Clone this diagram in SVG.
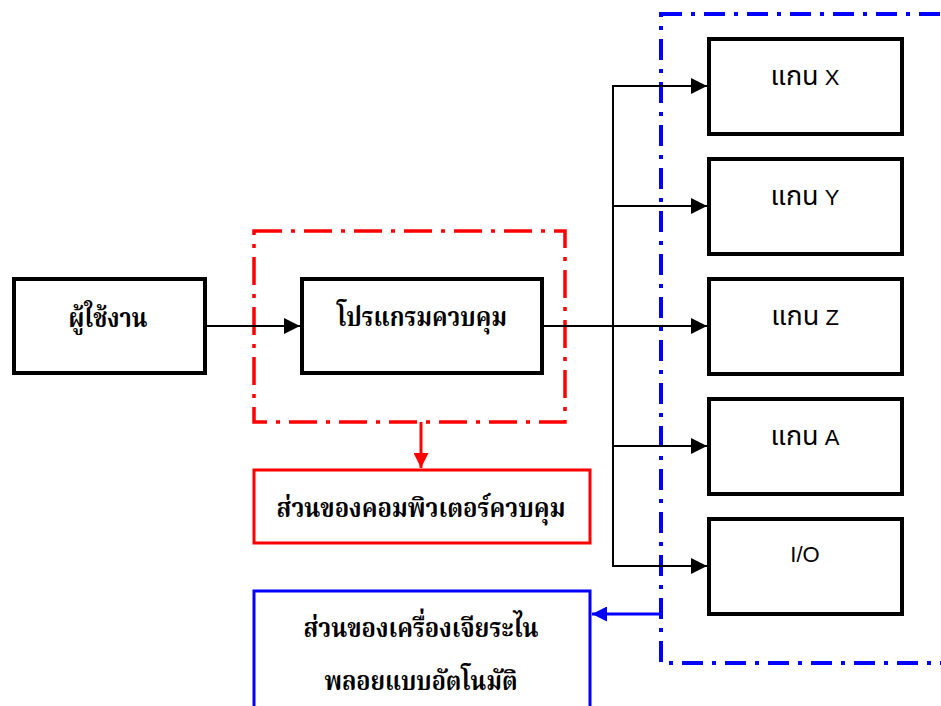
<svg xmlns="http://www.w3.org/2000/svg" width="941" height="706" viewBox="0 0 941 706">
  <style>
    .box { fill: #fff; stroke: #000; stroke-width: 4; }
    .th { font-family: "Liberation Serif", "Noto Serif Thai", "Noto Sans Thai", serif; font-weight: bold; font-size: 27px; fill: #000; text-anchor: middle; }
    .ax { font-family: "Liberation Sans", "Noto Sans Thai", sans-serif; font-size: 22px; fill: #000; text-anchor: middle; }
    .ax .thai { font-size: 27px; }
    .wire { fill: none; stroke: #000; stroke-width: 2; }
  </style>
  <defs>
    <marker id="arrBlack" viewBox="0 0 10 10" refX="10" refY="5" markerWidth="8" markerHeight="8" markerUnits="strokeWidth" orient="auto">
      <path d="M0,0 L10,5 L0,10 Z" fill="#000"/>
    </marker>
    <marker id="arrRed" viewBox="0 0 10 10" refX="10" refY="5" markerWidth="5" markerHeight="5" markerUnits="strokeWidth" orient="auto">
      <path d="M0,0 L10,5 L0,10 Z" fill="#f00"/>
    </marker>
    <marker id="arrBlue" viewBox="0 0 10 10" refX="10" refY="5" markerWidth="5" markerHeight="5" markerUnits="strokeWidth" orient="auto">
      <path d="M0,0 L10,5 L0,10 Z" fill="#00f"/>
    </marker>
  </defs>

  <!-- dash-dot group frames -->
  <g id="frame-computer">
    <rect x="254" y="231" width="311" height="191" fill="none" stroke="#f00" stroke-width="3.5" stroke-dasharray="28 9 4 9"/>
  </g>
  <g id="frame-machine">
    <rect x="661" y="14" width="320" height="649" fill="none" stroke="#00f" stroke-width="4" stroke-dasharray="21 9 4 9"/>
  </g>

  <!-- connectors -->
  <g id="connectors">
    <line class="wire" x1="205" y1="326" x2="300" y2="326" marker-end="url(#arrBlack)"/>
    <line class="wire" x1="543" y1="326" x2="707" y2="326" marker-end="url(#arrBlack)"/>
    <line class="wire" x1="613" y1="85" x2="613" y2="567"/>
    <line class="wire" x1="612" y1="86" x2="707" y2="86" marker-end="url(#arrBlack)"/>
    <line class="wire" x1="612" y1="206" x2="707" y2="206" marker-end="url(#arrBlack)"/>
    <line class="wire" x1="612" y1="446" x2="707" y2="446" marker-end="url(#arrBlack)"/>
    <line class="wire" x1="612" y1="566" x2="707" y2="566" marker-end="url(#arrBlack)"/>
    <line x1="421" y1="422" x2="421" y2="468" stroke="#f00" stroke-width="3" marker-end="url(#arrRed)"/>
    <line x1="661" y1="614" x2="592" y2="614" stroke="#00f" stroke-width="3" marker-end="url(#arrBlue)"/>
  </g>

  <g id="user">
    <rect class="box" x="14" y="279" width="191" height="94"/>
    <text class="th" x="108" y="327" textLength="79" lengthAdjust="spacingAndGlyphs">ผู้ใช้งาน</text>
  </g>

  <g id="control-program">
    <rect class="box" x="302" y="279" width="240" height="94"/>
    <text class="th" x="422" y="326" textLength="170" lengthAdjust="spacingAndGlyphs">โปรแกรมควบคุม</text>
  </g>

  <g id="computer-part">
    <rect x="254" y="470" width="336" height="73" fill="#fff" stroke="#f00" stroke-width="3"/>
    <text class="th" x="421" y="517" textLength="289" lengthAdjust="spacingAndGlyphs">ส่วนของคอมพิวเตอร์ควบคุม</text>
  </g>

  <g id="machine-part">
    <rect x="254" y="591" width="336" height="130" fill="#fff" stroke="#00f" stroke-width="3"/>
    <text class="th" x="421" y="637" textLength="235" lengthAdjust="spacingAndGlyphs">ส่วนของเครื่องเจียระไน</text>
    <text class="th" x="421" y="690" textLength="193" lengthAdjust="spacingAndGlyphs">พลอยแบบอัตโนมัติ</text>
  </g>

  <g id="axis-x">
    <rect class="box" x="709" y="39" width="193" height="95"/>
    <text class="ax" x="805" y="85"><tspan class="thai">แกน</tspan> X</text>
  </g>
  <g id="axis-y">
    <rect class="box" x="709" y="159" width="193" height="95"/>
    <text class="ax" x="805" y="205"><tspan class="thai">แกน</tspan> Y</text>
  </g>
  <g id="axis-z">
    <rect class="box" x="709" y="279" width="193" height="95"/>
    <text class="ax" x="805" y="325"><tspan class="thai">แกน</tspan> Z</text>
  </g>
  <g id="axis-a">
    <rect class="box" x="709" y="399" width="193" height="95"/>
    <text class="ax" x="805" y="445"><tspan class="thai">แกน</tspan> A</text>
  </g>
  <g id="io">
    <rect class="box" x="709" y="519" width="193" height="95"/>
    <text class="ax" x="805" y="562">I/O</text>
  </g>
</svg>
